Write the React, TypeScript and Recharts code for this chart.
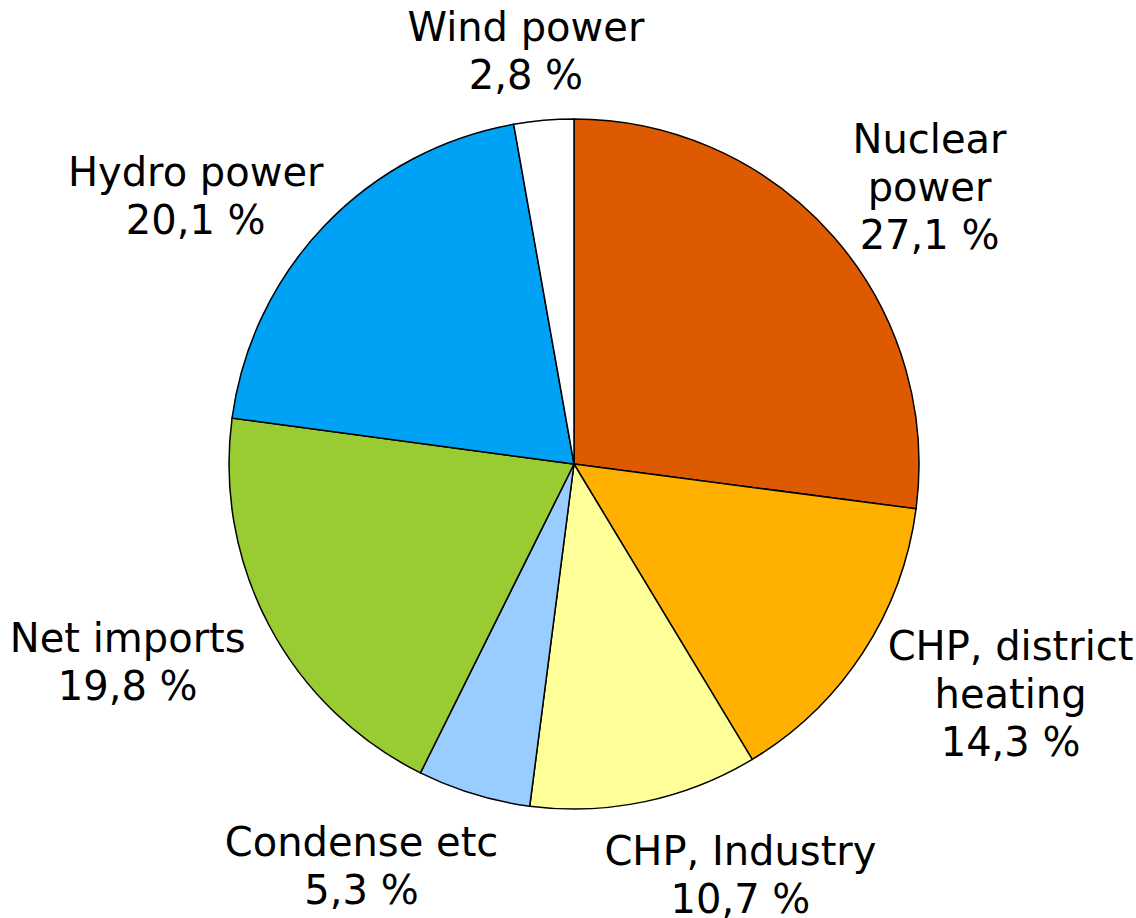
import React from "react";
import { PieChart, Pie, Cell } from "recharts";

const categories = [
  "Nuclear power",
  "CHP, district heating",
  "CHP, Industry",
  "Condense etc",
  "Net imports",
  "Hydro power",
  "Wind power",
];
const labelLines = [
  ["Nuclear", "power"],
  ["CHP, district", "heating"],
  ["CHP, Industry"],
  ["Condense etc"],
  ["Net imports"],
  ["Hydro power"],
  ["Wind power"],
];
const shares = [27.1, 14.3, 10.7, 5.3, 19.8, 20.1, 2.8];
const colors = ["#DD5A00", "#FFB000", "#FFFF99", "#99CCFF", "#99CC33", "#00A2F5", "#FFFFFF"];
// label placement: extra distance beyond the rim, and angular shift (degrees)
const labelGap = [106, 148, 98, 109, 143, 119, 71];
const labelShift = [-3.3, 5.5, 10.2, -11.0, -4.1, 8.4, 1.6];

const data = categories.map((name, i) => ({ name, value: shares[i] }));

const FS = 40;
const LH = 48;
const RAD = Math.PI / 180;

const fmt = (v: number) => v.toFixed(1).replace(".", ",") + " %";

const renderLabel = (props: any) => {
  const { cx, cy, midAngle, outerRadius, index } = props;
  const a = (midAngle + labelShift[index]) * RAD;
  const r = outerRadius + labelGap[index];
  const x = cx + r * Math.cos(a);
  const y = cy - r * Math.sin(a);
  const lines = [...labelLines[index], fmt(shares[index])];
  const n = lines.length;
  const b1 = y - ((n - 1) * LH) / 2 + 0.365 * FS;
  return (
    <text
      key={"lbl" + index}
      x={x}
      y={b1}
      textAnchor="middle"
      fontFamily="DejaVu Sans, Verdana, sans-serif"
      fontSize={FS}
      fill="#000"
    >
      {lines.map((t, i) => (
        <tspan key={i} x={x} y={b1 + i * LH}>
          {t}
        </tspan>
      ))}
    </text>
  );
};

export default function App() {
  return (
    <div style={{ position: "absolute", left: 0, top: 0, width: 1136, height: 918, background: "#fff" }}>
      <PieChart width={1136} height={918} margin={{ top: 0, right: 0, bottom: 0, left: 0 }}>
        <Pie
          data={data}
          dataKey="value"
          nameKey="name"
          cx={574}
          cy={464}
          outerRadius={345}
          startAngle={90}
          endAngle={-270}
          stroke="#000"
          strokeWidth={1.5}
          label={renderLabel}
          labelLine={false}
          isAnimationActive={false}
        >
          {data.map((d, i) => (
            <Cell key={d.name} fill={colors[i]} />
          ))}
        </Pie>
      </PieChart>
    </div>
  );
}
